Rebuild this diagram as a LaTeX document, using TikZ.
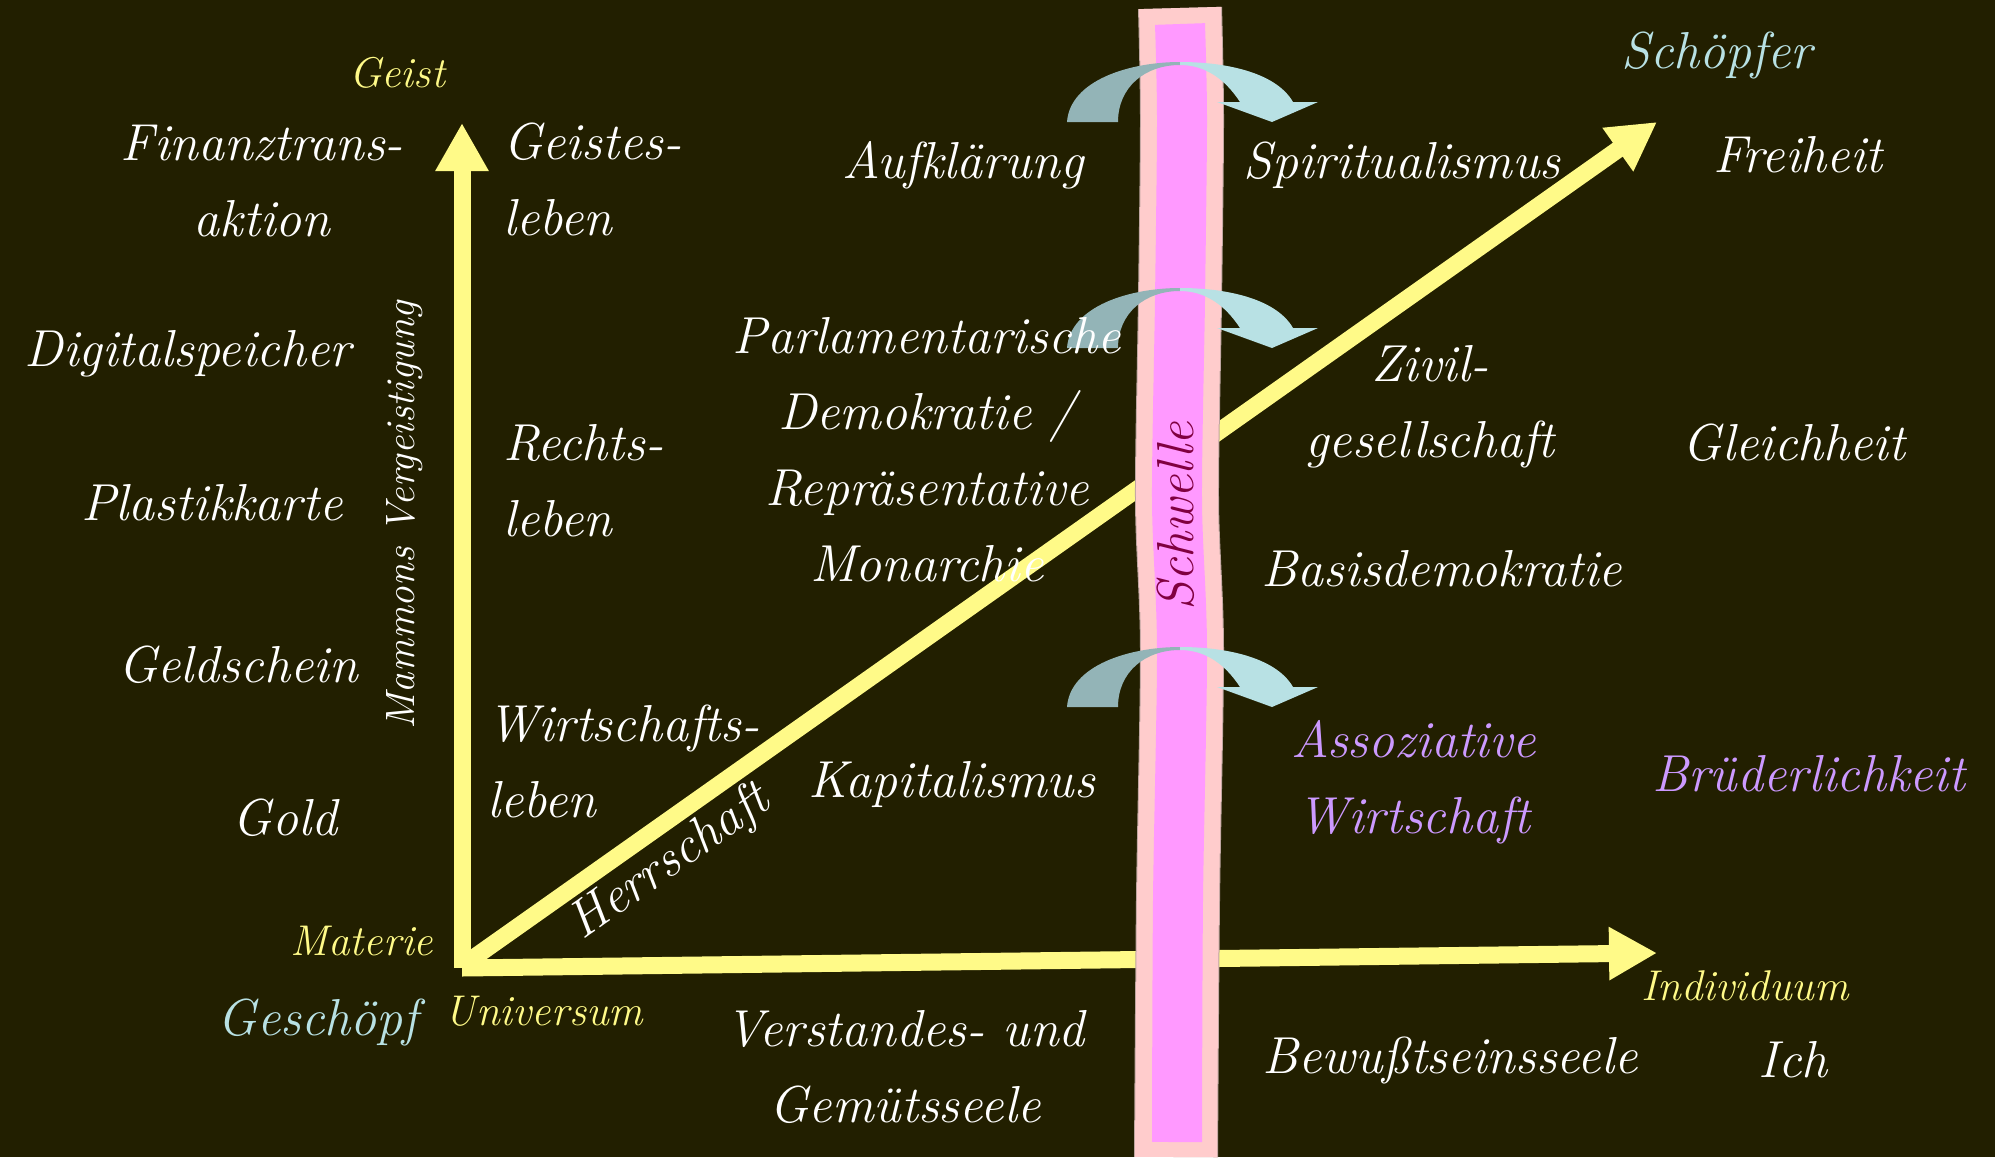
\documentclass[tikz,border=0pt]{standalone}
\usetikzlibrary{arrows.meta}

\definecolor{bgolive}{RGB}{34,31,0}
\definecolor{axisyellow}{RGB}{255,250,136}
\definecolor{bandpink}{RGB}{255,204,204}
\definecolor{bandmagenta}{RGB}{255,153,255}
\definecolor{bandedge}{RGB}{190,165,160}
\definecolor{arrowdark}{RGB}{147,180,183}
\definecolor{arrowlight}{RGB}{184,225,228}
\definecolor{lilac}{RGB}{204,153,255}
\definecolor{schwellered}{RGB}{128,0,64}

\begin{document}
\begin{tikzpicture}[x=1pt, y=-1pt,
  word/.style={text=white, font=\fontsize{52}{76}\selectfont\itshape, align=center, inner sep=0pt},
  axislabel/.style={text=axisyellow, font=\fontsize{43}{50}\selectfont\itshape, inner sep=0pt},
  axisline/.style={axisyellow, line width=17pt, -{Triangle[length=48pt, width=50pt]}},
  crossarrow/.pic={
    \fill[arrowdark] (-113,60) .. controls (-110,18) and (-50,0) .. (0,0) -- (0,3) .. controls (-35,3) and (-62,25) .. (-62,60) -- cycle;
    \fill[arrowlight] (0,0) .. controls (50,0) and (97,12) .. (113,40) -- (138,40) -- (92,60) -- (37,40) -- (60,40) .. controls (45,17) and (25,3) .. (0,3) -- cycle;
  }]
\useasboundingbox (0,0) rectangle (1995,1157);
\fill[bgolive] (0,0) rectangle (1995,1157);

% axes
\coordinate (origin) at (462,966);
\coordinate (corner) at (462,968);
\coordinate (geist) at (462,123);
\coordinate (individuum) at (1657,953);
\coordinate (schoepfer) at (1657,122);
\draw[axisline] (corner) -- (geist);
\draw[axisline] (corner) -- (individuum);
\draw[axisline] (origin) -- (schoepfer);

% threshold band
\draw[bandedge, line width=84pt] plot[smooth] coordinates {(1180,8) (1182,120) (1180,300) (1177,500) (1182,650) (1178,900) (1176,1157)};
\draw[bandpink, line width=82pt] plot[smooth] coordinates {(1180,8) (1182,120) (1180,300) (1177,500) (1182,650) (1178,900) (1176,1157)};
\draw[bandmagenta, line width=50pt] plot[smooth] coordinates {(1180,24) (1182,120) (1180,300) (1177,500) (1182,650) (1178,900) (1177,1142)};
\node[font=\fontsize{52}{60}\selectfont\itshape, text=schwellered, rotate=90, inner sep=0pt] (schwelle) at (1176,516) {Schwelle};

% crossing arrows
\pic at (1180,62) {crossarrow};
\pic at (1180,288) {crossarrow};
\pic at (1180,647) {crossarrow};

% axis labels
\node[axislabel, anchor=base] (geistlbl) at (397,87) {Geist};
\node[axislabel, anchor=base] (materie) at (362,955) {Materie};
\node[axislabel, anchor=base] (universum) at (544,1025) {Universum};
\node[axislabel, anchor=base] (individuumlbl) at (1745,1000) {Individuum};
\node[word, text=arrowlight, anchor=base] (schoepferlbl) at (1717,68) {Schöpfer};
\node[word, text=arrowlight, anchor=base] (geschoepf) at (318,1035) {Geschöpf};
\node[text=white, font=\fontsize{41}{47}\selectfont\itshape, rotate=90, inner sep=0pt] (mammon) at (405,515) {Mammons Vergeistigung};
\node[word, rotate=35.2] (herrschaft) at (670,863) {Herrschaft};

% money column
\node[word] (finanz) at (262,181) {Finanztrans-\\aktion};
\node[word] (digital) at (188,354) {Digitalspeicher};
\node[word] (plastik) at (212,503) {Plastikkarte};
\node[word] (geldschein) at (238,665) {Geldschein};
\node[word] (gold) at (285,818) {Gold};

% spheres of life
\node[word, align=left, anchor=west] (geistesleben) at (503,179) {Geistes-\\leben};
\node[word, align=left, anchor=west] (rechtsleben) at (503,481) {Rechts-\\leben};
\node[word, align=left, anchor=west] (wirtschaftsleben) at (487,761) {Wirtschafts-\\leben};

% before the threshold
\node[word] (aufklaerung) at (963,165) {Aufklärung};
\node[word] (parlament) at (927,450) {Parlamentarische\\Demokratie /\\Repräsentative\\Monarchie};
\node[word] (kapital) at (952,784) {Kapitalismus};
\node[word] (verstand) at (905,1067) {Verstandes- und\\Gemütsseele};

% beyond the threshold
\node[word] (spiritual) at (1402,165) {Spiritualismus};
\node[word] (zivil) at (1430,407) {Zivil-\\gesellschaft};
\node[word] (basis) at (1442,569) {Basisdemokratie};
\node[word, text=lilac] (assoz) at (1414,782) {Assoziative\\Wirtschaft};
\node[word] (bewusst) at (1450,1060) {Bewußtseinsseele};

% ideals
\node[word] (freiheit) at (1798,155) {Freiheit};
\node[word] (gleichheit) at (1794,443) {Gleichheit};
\node[word, text=lilac] (bruder) at (1809,774) {Brüderlichkeit};
\node[word] (ich) at (1793,1060) {Ich};
\end{tikzpicture}
\end{document}
